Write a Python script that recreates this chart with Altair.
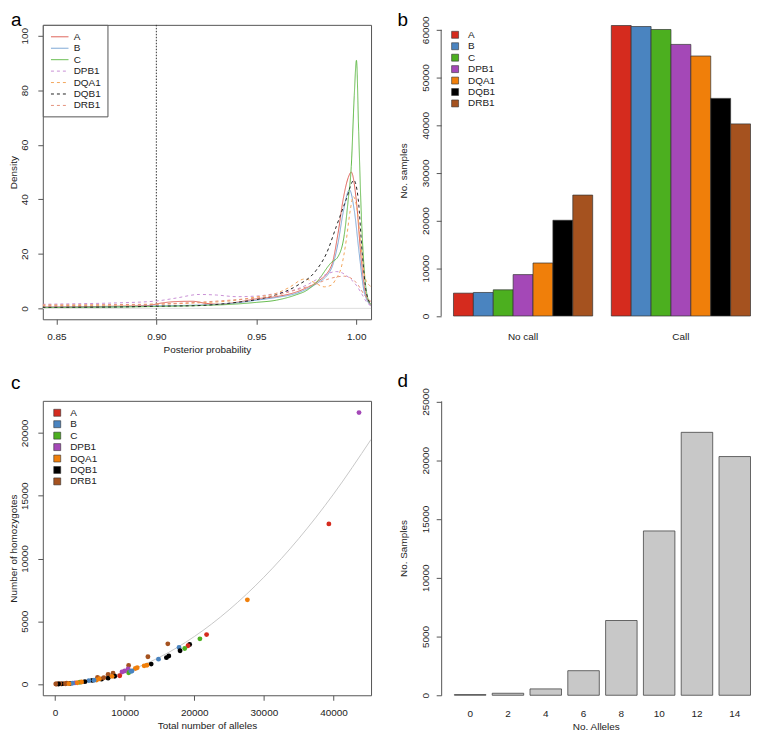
import altair as alt
import pandas as pd

FONT = "Liberation Sans"
GENES = ["A", "B", "C", "DPB1", "DQA1", "DQB1", "DRB1"]
FILL_COLORS = ["#D52B1E", "#4A84C0", "#4CAF1F", "#A448B7", "#F07F0A", "#000000", "#A5521F"]
LINE_COLORS = ["#DE5F55", "#79A4D4", "#62B94A", "#C990D6", "#F3A65C", "#222222", "#E4917C"]
LINE_DASHES = [[1, 0], [1, 0], [1, 0], [3, 3], [3, 3], [3, 3], [3, 3]]
PANEL_LETTERS = ["a", "b", "c", "d"]

# ---------------- panel a: posterior probability densities ----------------
DENS_X = {
    "A": [0.843, 0.86, 0.88, 0.895, 0.903, 0.91, 0.918, 0.925, 0.932, 0.94, 0.95, 0.96, 0.97, 0.975,
          0.98, 0.9875, 0.9909, 0.9934, 0.996, 0.9975, 1.0, 1.0025, 1.0045, 1.0074],
    "B": [0.843, 0.88, 0.90, 0.92, 0.94, 0.95, 0.96, 0.97, 0.975, 0.98, 0.9875, 0.9909, 0.9934,
          0.9966, 0.999, 1.0015, 1.004, 1.0074],
    "C": [0.843, 0.88, 0.90, 0.92, 0.94, 0.95, 0.96, 0.97, 0.975, 0.98, 0.9875, 0.9909, 0.994,
          0.996, 0.9975, 0.999, 1.0001, 1.0012, 1.0025, 1.004, 1.0061, 1.0074],
    "DPB1": [0.843, 0.86, 0.88, 0.90, 0.91, 0.9215, 0.93, 0.94, 0.95, 0.96, 0.97, 0.975, 0.98,
             0.985, 0.99, 0.993, 0.996, 1.0, 1.003, 1.005, 1.0074],
    "DQA1": [0.843, 0.88, 0.90, 0.92, 0.94, 0.95, 0.96, 0.966, 0.9744, 0.979, 0.984, 0.9875,
             0.99, 0.9925, 0.995, 0.997, 0.9985, 1.0005, 1.0025, 1.0045, 1.0074],
    "DQB1": [0.843, 0.88, 0.90, 0.92, 0.94, 0.95, 0.96, 0.97, 0.98, 0.985, 0.99, 0.995, 0.9988,
             1.001, 1.003, 1.005, 1.0074],
    "DRB1": [0.843, 0.88, 0.90, 0.92, 0.94, 0.95, 0.96, 0.97, 0.98, 0.985, 0.99, 0.994, 0.998,
             1.001, 1.004, 1.0074],
}
DENS_Y = {
    "A": [0.5, 0.6, 0.8, 1.0, 2.0, 2.5, 2.6, 1.8, 1.5, 2.2, 3.5, 4.3, 6.0, 7.5,
          9.5, 15.5, 27.6, 39.8, 48, 50, 39.8, 17.9, 6, 1],
    "B": [0.4, 0.6, 0.9, 1.2, 2.0, 3.0, 4.0, 5.5, 7.0, 9.0, 14.5, 24, 35,
          43.5, 36, 20, 6, 1],
    "C": [0.3, 0.5, 0.7, 1.0, 1.6, 2.2, 3.0, 5.0, 6.5, 9.5, 16.8, 19, 27,
          40, 52, 78, 91, 65, 35, 14, 3, 1.5],
    "DPB1": [1.5, 1.7, 2.0, 2.7, 3.8, 5.1, 4.9, 4.3, 4.5, 5.5, 7.0, 8.5, 10.5,
             12.5, 13.5, 13.0, 11.5, 8.5, 5.0, 2.5, 0.8],
    "DQA1": [1.0, 1.2, 1.5, 2.0, 3.0, 4.2, 5.5, 7.5, 10.8, 9.5, 7.9, 8.5,
             11, 15, 25, 36, 41, 36, 22, 11, 8],
    "DQB1": [0.4, 0.5, 0.8, 1.0, 2.2, 3.2, 5.0, 8.2, 14, 20, 30, 40, 47,
             40, 20, 6, 1.5],
    "DRB1": [1.3, 1.4, 1.6, 2.2, 3.2, 3.8, 4.8, 6.8, 9.0, 10.5, 11.5, 11.8, 10.8,
             8.5, 5, 2.5],
}
A_XTICKS = [0.85, 0.90, 0.95, 1.00]
A_YTICKS = [0, 20, 40, 60, 80, 100]
THRESHOLD = [0.90]
ZERO = [0]

# ---------------- panel b: calls per gene ----------------
STATUS = ["No call", "Call"]
NOCALL = [4790, 4930, 5490, 8680, 11110, 20070, 25350]
CALL = [60900, 60690, 60070, 56940, 54510, 45625, 40280]
B_YTICKS = [0, 10000, 20000, 30000, 40000, 50000, 60000]

# ---------------- panel c: homozygotes vs allele count ----------------
C_X = [43670, 39340, 27630, 21770, 20810, 19340, 19100, 18630, 17810, 17960, 16200, 16340, 16000,
       14860, 13810, 13340, 12800, 13200, 11530, 11050, 10570, 10500, 10570, 9620, 10000, 9290,
       8330, 8570, 7620, 7620, 8190, 6670, 6100, 5970, 5330, 4860, 4290, 3570, 3810, 2860, 2150,
       1670, 1200, 950, 700, 400, 200, 1500, 2500, 3200, 5600, 6400, 7000, 10900, 2000, 500, 100,
       11800]
C_Y = [21630, 12760, 6710, 3940, 3600, 3150, 3050, 2830, 2910, 2650, 3200, 2230, 2100,
       1980, 1590, 2170, 1450, 1500, 1240, 1040, 1480, 1200, 900, 960, 1040, 660,
       860, 620, 760, 470, 610, 390, 530, 320, 290, 270, 190, 140, 160, 90, 40,
       60, 30, 10, 20, 10, 5, 20, 60, 100, 300, 420, 500, 1020, 30, 5, 2,
       1300]
C_GENE = ["DPB1", "A", "DQA1", "A", "C", "DQB1", "A", "C", "B", "DQB1", "DRB1", "DQB1", "DQB1",
          "B", "DQB1", "DRB1", "DQA1", "DQA1", "DQA1", "B", "DRB1", "DPB1", "C", "DPB1", "DPB1", "A",
          "DRB1", "DQB1", "DRB1", "DQB1", "DQA1", "DQB1", "DRB1", "DQA1", "DQB1", "B", "DQB1", "C",
          "DQA1", "DPB1", "DQB1", "DRB1", "DRB1", "DQB1", "DRB1", "DRB1", "DRB1", "DRB1", "B", "DQA1",
          "B", "DQA1", "DRB1", "B", "DQA1", "DQB1", "DRB1", "DQA1"]
CURVE_X = [0, 5000, 10000, 15000, 20000, 25000, 30000, 35000, 40000, 45400]
CURVE_Y = [0, 240, 950, 2130, 3780, 5910, 8510, 11580, 15130, 19490]
C_XTICKS = [0, 10000, 20000, 30000, 40000]
C_YTICKS = [0, 5000, 10000, 15000, 20000]

# ---------------- panel d: alleles per sample ----------------
ALLELES = [0, 2, 4, 6, 8, 10, 12, 14]
D_COUNTS = [60, 170, 540, 2090, 6360, 13980, 22370, 20310]
D_YTICKS = [0, 5000, 10000, 15000, 20000, 25000]

W1, W2, H = 330, 311, 296


def letter_layer(t, dx, dy):
    return alt.Chart(pd.DataFrame({"t": [t]})).mark_text(
        fontSize=19, font=FONT, align="left", baseline="alphabetic", color="black").encode(
        text="t:N", x=alt.value(dx), y=alt.value(dy))


def y_axis(values, title, label_pad, title_pad, domain):
    return alt.Axis(values=values, title=title, format="d", labelAngle=-90, labelAlign="center",
                    labelBaseline="bottom", labelPadding=label_pad, titlePadding=title_pad,
                    domain=domain, labelOverlap=False, tickSize=5)


def x_axis(values, title, fmt):
    return alt.Axis(values=values, title=title, format=fmt, labelAngle=0, labelPadding=7,
                    titlePadding=3, domain=False, labelOverlap=False, tickSize=5, labelFlush=False)


sq_legend_common = dict(title=None, orient="none", symbolType="square", symbolSize=49,
                        symbolStrokeColor="#333333", symbolStrokeWidth=0.6, labelFont=FONT,
                        labelFontSize=10, labelColor="#222222", labelOffset=8, rowPadding=1.5,
                        padding=0)

# ---- panel a
rows = []
for g in GENES:
    for xv, yv in zip(DENS_X[g], DENS_Y[g]):
        rows.append({"gene": g, "pp": xv, "density": yv})
dens_df = pd.DataFrame(rows)

xa_scale = alt.Scale(domain=[0.8432, 1.0074], nice=False, zero=False)
ya_scale = alt.Scale(domain=[-4, 104], nice=False, zero=False)
xa_axis = x_axis(A_XTICKS, "Posterior probability", ".2f")
ya_axis = y_axis(A_YTICKS, "Density", 8, 1, False)

leg_a = alt.Legend(title=None, orient="none", legendX=0, legendY=0, symbolType="M-1.6,0L1.6,0",
                   symbolSize=121, symbolStrokeWidth=1, labelFont=FONT, labelFontSize=10,
                   labelColor="#222222", padding=6, symbolOffset=5, labelOffset=8,
                   rowPadding=0.5, strokeColor="#555555", fillColor="white")

zero_a = alt.Chart(pd.DataFrame({"density": ZERO})).mark_rule(color="#dddddd", strokeWidth=1).encode(
    y=alt.Y("density:Q", scale=ya_scale, axis=ya_axis))
thr_a = alt.Chart(pd.DataFrame({"pp": THRESHOLD})).mark_rule(
    color="#333333", strokeWidth=1, strokeDash=[1.5, 1.5]).encode(
    x=alt.X("pp:Q", scale=xa_scale, axis=xa_axis))
lines_a = alt.Chart(dens_df).mark_line(strokeWidth=1, interpolate="monotone", clip=True).encode(
    x=alt.X("pp:Q", scale=xa_scale, axis=xa_axis),
    y=alt.Y("density:Q", scale=ya_scale, axis=ya_axis),
    color=alt.Color("gene:N", scale=alt.Scale(domain=GENES, range=LINE_COLORS), legend=leg_a),
    strokeDash=alt.StrokeDash("gene:N", scale=alt.Scale(domain=GENES, range=LINE_DASHES), legend=leg_a),
)
panel_a = alt.layer(zero_a, thr_a, lines_a, letter_layer(PANEL_LETTERS[0], -32, 1)).properties(
    width=W1, height=H, view=alt.ViewBackground(stroke="#555555", strokeWidth=1))

# ---- panel b
b_df = pd.DataFrame({"status": [STATUS[0]] * len(GENES) + [STATUS[1]] * len(GENES),
                     "gene": GENES * 2, "n": NOCALL + CALL})
yb_scale = alt.Scale(domain=[0, 61040], nice=False)
yb_axis = y_axis(B_YTICKS, "No. samples", 6, 12, False)
bars_b = alt.Chart(b_df).mark_bar(stroke="#333333", strokeWidth=0.7).encode(
    x=alt.X("status:N", sort=STATUS,
            scale=alt.Scale(domain=STATUS, paddingInner=0.118, paddingOuter=0.039, align=1),
            axis=alt.Axis(title=None, ticks=False, domain=False, labelAngle=0, labelPadding=16)),
    xOffset=alt.XOffset("gene:N", sort=GENES, scale=alt.Scale(domain=GENES, paddingInner=0, paddingOuter=0)),
    y=alt.Y("n:Q", scale=yb_scale, axis=yb_axis),
    color=alt.Color("gene:N", scale=alt.Scale(domain=GENES, range=FILL_COLORS),
                    legend=alt.Legend(legendX=9, legendY=5, **sq_legend_common)),
)
axisline_b = alt.Chart(pd.DataFrame({"n": [min(B_YTICKS)], "n2": [max(B_YTICKS)]})).mark_rule(
    color="#555555", strokeWidth=1).encode(
    x=alt.value(0), y=alt.Y("n:Q", scale=yb_scale, axis=yb_axis), y2="n2:Q")
panel_b = alt.layer(bars_b, axisline_b, letter_layer(PANEL_LETTERS[1], -44, 1)).properties(
    width=W2, height=292.7)

# ---- panel c
c_df = pd.DataFrame({"total": C_X, "homoz": C_Y, "gene": C_GENE})
curve_df = pd.DataFrame({"total": CURVE_X, "homoz": CURVE_Y})
xc_scale = alt.Scale(domain=[-1760, 45400], nice=False, zero=False)
yc_scale = alt.Scale(domain=[-895, 22567], nice=False, zero=False)
xc_axis = x_axis(C_XTICKS, "Total number of alleles", "d")
yc_axis = y_axis(C_YTICKS, "Number of homozygotes", 8, 1, False)
curve_c = alt.Chart(curve_df).mark_line(color="#c8c8c8", strokeWidth=1, clip=True,
                                        interpolate="monotone").encode(
    x=alt.X("total:Q", scale=xc_scale, axis=xc_axis),
    y=alt.Y("homoz:Q", scale=yc_scale, axis=yc_axis))
pts_c = alt.Chart(c_df).mark_circle(size=24, opacity=1).encode(
    x=alt.X("total:Q", scale=xc_scale, axis=xc_axis),
    y=alt.Y("homoz:Q", scale=yc_scale, axis=yc_axis),
    color=alt.Color("gene:N", scale=alt.Scale(domain=GENES, range=FILL_COLORS),
                    legend=alt.Legend(legendX=9.5, legendY=7, **sq_legend_common)),
)
panel_c = alt.layer(curve_c, pts_c, letter_layer(PANEL_LETTERS[2], -32, -12)).properties(
    width=W1, height=H, view=alt.ViewBackground(stroke="#555555", strokeWidth=1))

# ---- panel d
d_df = pd.DataFrame({"alleles": ALLELES, "count": D_COUNTS})
bars_d = alt.Chart(d_df).mark_bar(fill="#c8c8c8", stroke="#444444", strokeWidth=0.8).encode(
    x=alt.X("alleles:O", scale=alt.Scale(paddingInner=0.167, paddingOuter=0.175, align=1),
            axis=alt.Axis(title="No. Alleles", ticks=False, domain=False, labelAngle=0,
                          labelPadding=13, titlePadding=3)),
    y=alt.Y("count:Q", scale=alt.Scale(domain=[0, 25050], nice=False),
            axis=y_axis(D_YTICKS, "No. Samples", 6, 12, True)),
)
panel_d = alt.layer(bars_d, letter_layer(PANEL_LETTERS[3], -44, -14)).properties(width=W2, height=H)

chart = alt.concat(panel_a, panel_b, panel_c, panel_d, columns=2,
                   spacing={"row": 82, "column": 70.5}, bounds="flush").resolve_scale(
    color="independent", strokeDash="independent").resolve_legend(
    color="independent", strokeDash="independent").properties(
    padding=0, background="white").configure(font=FONT).configure_view(
    stroke="transparent").configure_axis(
    labelFont=FONT, titleFont=FONT, labelFontSize=10, titleFontSize=10, titleFontWeight="normal",
    labelColor="#222222", titleColor="#222222", tickColor="#555555", domainColor="#555555",
    grid=False)

chart.save("out.html", embed_options={"renderer": "svg", "actions": False})
